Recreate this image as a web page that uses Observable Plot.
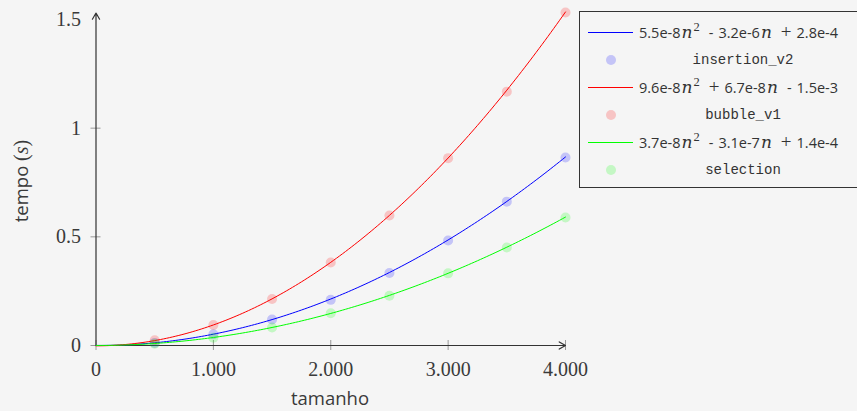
<!DOCTYPE html>
<html>
<head>
<meta charset="utf-8">
<script src="https://cdn.jsdelivr.net/npm/d3@7"></script>
<script src="https://cdn.jsdelivr.net/npm/@observablehq/plot@0.6"></script>
<style>
  html, body { margin: 0; padding: 0; background: #f5f5f5; }
  #wrap { position: relative; width: 857px; height: 411px; overflow: hidden; background: #f5f5f5; }
  #legend { position: absolute; left: 579px; top: 11px; width: 300px; height: 177px; border: 1px solid #333; box-sizing: border-box; }
  .row { position: absolute; left: 0; width: 100%; height: 20px; }
  .sample { position: absolute; left: 8px; top: 5px; width: 45px; height: 10px; overflow: visible; }
  .formula { position: absolute; left: 59px; top: 0; font-family: "Open Sans", sans-serif; font-size: 14.5px; color: #333; white-space: nowrap; line-height: 20px; }
  .formula .m { font-family: "DejaVu Serif", serif; font-style: italic; font-size: 17px; margin-left: 1px; }
  .formula .op { font-family: "Liberation Serif", serif; font-size: 19px; margin: 0 5px 0 9px; }
  .formula .minus { margin: 0 5px 0 9px; }
  .formula sup { font-family: "Liberation Serif", serif; font-size: 12.5px; vertical-align: 7px; line-height: 0; margin-left: 1px; }
  .dot { position: absolute; left: 26px; top: 5px; width: 10px; height: 10px; border-radius: 50%; }
  .name { position: absolute; left: 103px; width: 120px; text-align: center; font-family: "Liberation Mono", monospace; font-size: 14px; color: #333; line-height: 20px; }
</style>
</head>
<body>
<div id="wrap">
  <div id="chart"></div>
  <div id="legend"></div>
</div>
<script>
// ---- data ----
const sizes = [500, 1000, 1500, 2000, 2500, 3000, 3500, 4000];
const insertionV2 = [0.012, 0.052, 0.120, 0.210, 0.334, 0.483, 0.662, 0.865];
const bubbleV1   = [0.024, 0.094, 0.214, 0.382, 0.598, 0.862, 1.168, 1.532];
const selection  = [0.008, 0.036, 0.083, 0.148, 0.229, 0.332, 0.451, 0.589];

// fitted quadratic coefficients [a, b, c] for a*n^2 + b*n + c
const fitInsertionV2 = [5.5e-8, -3.2e-6, 2.8e-4];
const fitBubbleV1    = [9.6e-8, 6.7e-8, -1.5e-3];
const fitSelection   = [3.7e-8, -3.1e-7, 1.4e-4];

const seriesNames  = ["insertion_v2", "bubble_v1", "selection"];
const seriesColors = ["#0000ff", "#ff0000", "#00ff00"];

const xTicks = [0, 1000, 2000, 3000, 4000];
const xTickLabels = ["0", "1.000", "2.000", "3.000", "4.000"];
const yTicks = [0, 0.5, 1, 1.5];
const yTickLabels = ["0", "0.5", "1", "1.5"];
const yTickMarks = [0, 0.5, 1];
const xDomain = [0, 4000];
const yDomain = [0, 1.5];
const yAxisEnd = 1.53;

// ---- build tables ----
const seriesValues = [insertionV2, bubbleV1, selection];
const seriesFits = [fitInsertionV2, fitBubbleV1, fitSelection];

const points = [];
seriesNames.forEach((name, s) => {
  sizes.forEach((n, i) => points.push({ series: name, n, t: seriesValues[s][i] }));
});

const curves = [];
seriesNames.forEach((name, s) => {
  const [a, b, c] = seriesFits[s];
  for (let n = xDomain[0]; n <= xDomain[1]; n += 25) {
    curves.push({ series: name, n, t: a * n * n + b * n + c });
  }
});

const colorScale = { domain: seriesNames, range: seriesColors };

const marks = [];
seriesNames.forEach((name) => {
  marks.push(Plot.line(curves.filter(d => d.series === name), { x: "n", y: "t", stroke: "series", strokeWidth: 1 }));
  marks.push(Plot.dot(points.filter(d => d.series === name), { x: "n", y: "t", r: 5, fill: "series", fillOpacity: 0.2 }));
});

const tickFont = { fontFamily: "Liberation Serif, serif", fontSize: 20 };

const plot = Plot.plot({
  width: 857,
  height: 411,
  marginLeft: 95.5,
  marginRight: 292,
  marginTop: 19,
  marginBottom: 66,
  style: { background: "#f5f5f5", color: "#3a3a3a", overflow: "visible" },
  x: { domain: xDomain, axis: null },
  y: { domain: yDomain, axis: null },
  color: colorScale,
  marks: [
    // tick marks crossing the axes
    Plot.axisX(xTicks, { tickSize: 10, dy: -5, text: null, label: null, stroke: "#999" }),
    Plot.axisY(yTickMarks, { tickSize: 10, dx: 5, text: null, label: null, stroke: "#999" }),
    // tick labels
    Plot.axisX(xTicks, { tickSize: 0, tickPadding: 16, tickFormat: d => xTickLabels[xTicks.indexOf(d)], label: null, ...tickFont, fill: "#3a3a3a" }),
    Plot.axisY(yTicks, { tickSize: 0, tickPadding: 15, tickFormat: d => yTickLabels[yTicks.indexOf(d)], label: null, ...tickFont, fill: "#3a3a3a" }),
    // axis lines with arrows
    Plot.arrow([{ x1: xDomain[0], y1: 0, x2: xDomain[1], y2: 0 }], { x1: "x1", y1: "y1", x2: "x2", y2: "y2", stroke: "#333", strokeWidth: 1.2, headLength: 9 }),
    Plot.arrow([{ x1: 0, y1: yDomain[0], x2: 0, y2: yAxisEnd }], { x1: "x1", y1: "y1", x2: "x2", y2: "y2", stroke: "#333", strokeWidth: 1.2, headLength: 9 }),
    ...marks
  ]
});

document.getElementById("chart").appendChild(plot);

// axis titles
const svg = d3.select(plot);
svg.append("text")
  .attr("x", 330).attr("y", 405)
  .attr("text-anchor", "middle")
  .attr("font-family", "Open Sans, sans-serif").attr("font-size", 18.5)
  .attr("fill", "#3a3a3a")
  .text("tamanho");

const yt = svg.append("text")
  .attr("transform", "translate(28,181) rotate(-90)")
  .attr("text-anchor", "middle")
  .attr("font-family", "Open Sans, sans-serif").attr("font-size", 18.5)
  .attr("fill", "#3a3a3a");
yt.append("tspan").text("tempo ");
yt.append("tspan").attr("font-family", "Liberation Serif, serif").attr("font-size", 20).text("(");
yt.append("tspan").attr("font-family", "Liberation Serif, serif").attr("font-style", "italic").attr("font-size", 20).text("s");
yt.append("tspan").attr("font-family", "Liberation Serif, serif").attr("font-size", 20).text(")");

// legend
const legend = document.getElementById("legend");
const rowTop = [10, 38, 65, 93, 120, 148];
function coefText(v) { return Math.abs(v).toExponential(1); }
function opHtml(v) { return v < 0 ? '<span class="minus">-</span>' : '<span class="op">+</span>'; }
const svgNS = "http://www.w3.org/2000/svg";
seriesNames.forEach((name, s) => {
  const [a, b, c] = seriesFits[s];
  const lineRow = document.createElement("div");
  lineRow.className = "row";
  lineRow.style.top = rowTop[2 * s] + "px";
  const sample = document.createElementNS(svgNS, "svg");
  sample.setAttribute("class", "sample");
  sample.setAttribute("width", "45");
  sample.setAttribute("height", "10");
  const ln = document.createElementNS(svgNS, "line");
  ln.setAttribute("x1", "0"); ln.setAttribute("x2", "45");
  ln.setAttribute("y1", "5.5"); ln.setAttribute("y2", "5.5");
  ln.setAttribute("stroke", seriesColors[s]);
  ln.setAttribute("stroke-width", "1.2");
  sample.appendChild(ln);
  lineRow.appendChild(sample);
  const f = document.createElement("div");
  f.className = "formula";
  f.innerHTML =
    (a < 0 ? "-" : "") + coefText(a) + '<span class="m">n</span><sup>2</sup>' +
    opHtml(b) + coefText(b) + '<span class="m">n</span>' +
    opHtml(c) + coefText(c);
  lineRow.appendChild(f);
  legend.appendChild(lineRow);

  const dotRow = document.createElement("div");
  dotRow.className = "row";
  dotRow.style.top = rowTop[2 * s + 1] + "px";
  const dot = document.createElement("div");
  dot.className = "dot";
  dot.style.background = seriesColors[s];
  dot.style.opacity = 0.2;
  dotRow.appendChild(dot);
  const nm = document.createElement("div");
  nm.className = "name";
  nm.textContent = name;
  dotRow.appendChild(nm);
  legend.appendChild(dotRow);
});
</script>
</body>
</html>
